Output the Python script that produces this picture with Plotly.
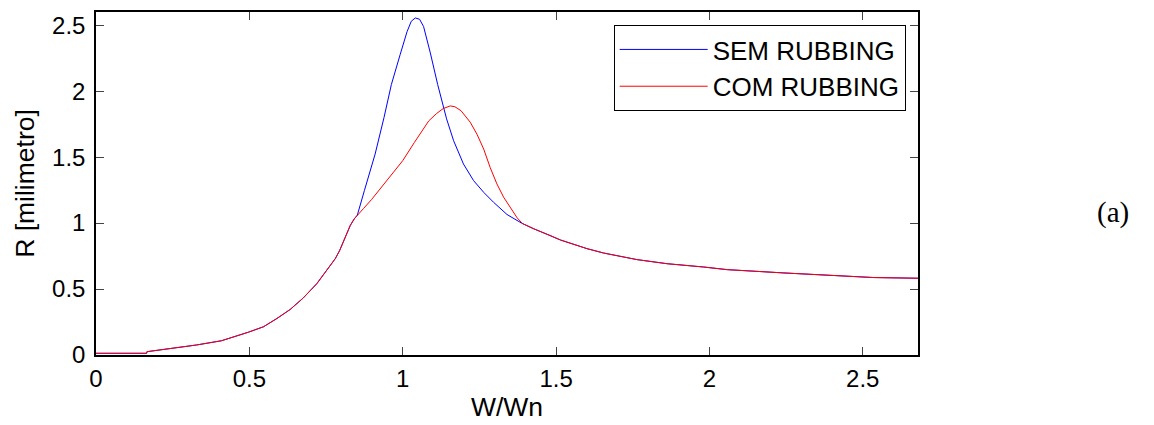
import plotly.graph_objects as go

# W/Wn values and R [milimetro] values
w_sem = [0.0, 0.165, 0.166, 0.234, 0.285, 0.328, 0.409, 0.459, 0.497, 0.546, 0.572, 0.59,
         0.633, 0.676, 0.72, 0.753, 0.78, 0.794, 0.812, 0.829, 0.842, 0.852, 0.875, 0.91,
         0.939, 0.963, 0.992, 1.014, 1.028, 1.041, 1.055, 1.068, 1.09, 1.114, 1.143, 1.166,
         1.198, 1.231, 1.264, 1.296, 1.34, 1.388, 1.427, 1.481, 1.514, 1.601, 1.655, 1.764,
         1.862, 1.981, 2.058, 2.243, 2.373, 2.536, 2.68]
r_sem = [0.013, 0.013, 0.025, 0.048, 0.06, 0.076, 0.108, 0.143, 0.173, 0.214, 0.25, 0.277,
         0.345, 0.433, 0.541, 0.64, 0.73, 0.79, 0.894, 0.982, 1.032, 1.06, 1.246, 1.523,
         1.8, 2.05, 2.28, 2.45, 2.53, 2.555, 2.545, 2.49, 2.29, 2.05, 1.79, 1.624,
         1.448, 1.322, 1.233, 1.158, 1.065, 0.999, 0.957, 0.906, 0.872, 0.806, 0.773, 0.723,
         0.692, 0.667, 0.647, 0.622, 0.604, 0.587, 0.582]

w_com = [0.0, 0.165, 0.166, 0.234, 0.285, 0.328, 0.409, 0.459, 0.497, 0.546, 0.572, 0.59,
         0.633, 0.676, 0.72, 0.753, 0.78, 0.794, 0.812, 0.829, 0.842, 0.852, 0.872, 0.899,
         0.927, 0.945, 0.981, 1.0, 1.038, 1.085, 1.11, 1.132, 1.155, 1.17, 1.19, 1.22,
         1.242, 1.264, 1.285, 1.307, 1.329, 1.351, 1.373, 1.39, 1.427, 1.481, 1.514, 1.601,
         1.655, 1.764, 1.862, 1.981, 2.058, 2.243, 2.373, 2.536, 2.68]
r_com = [0.013, 0.013, 0.025, 0.048, 0.06, 0.076, 0.108, 0.143, 0.173, 0.214, 0.25, 0.277,
         0.345, 0.433, 0.541, 0.64, 0.73, 0.79, 0.894, 0.982, 1.032, 1.06, 1.11, 1.18,
         1.26, 1.31, 1.42, 1.473, 1.611, 1.775, 1.83, 1.868, 1.888, 1.882, 1.852, 1.765,
         1.674, 1.561, 1.422, 1.297, 1.196, 1.12, 1.04, 0.997, 0.957, 0.906, 0.872, 0.806,
         0.773, 0.723, 0.692, 0.667, 0.647, 0.622, 0.604, 0.587, 0.582]

x_ticks = [0, 0.5, 1, 1.5, 2, 2.5]
y_ticks = [0, 0.5, 1, 1.5, 2, 2.5]

FONT = "Liberation Sans, Arial, sans-serif"

fig = go.Figure()
fig.add_trace(go.Scatter(x=w_sem, y=r_sem, mode="lines", name="SEM RUBBING",
                         line=dict(color="#0000ff", width=1)))
fig.add_trace(go.Scatter(x=w_com, y=r_com, mode="lines", name="COM RUBBING",
                         line=dict(color="#ff0000", width=1)))

axis_common = dict(showgrid=False, zeroline=False, showline=True, linecolor="black",
                   linewidth=1.5, mirror="allticks", ticks="inside", ticklen=8,
                   tickcolor="#444", tickwidth=1, tickfont=dict(family=FONT, size=24, color="black"))

fig.update_xaxes(range=[0, 2.68], tickvals=x_ticks, ticktext=[str(v) for v in x_ticks],
                 title=dict(text="W/Wn", font=dict(family=FONT, size=26.5, color="black"), standoff=4),
                 ticklabelstandoff=1, **axis_common)
fig.update_yaxes(range=[0, 2.6], tickvals=y_ticks, ticktext=[str(v) for v in y_ticks],
                 title=dict(text="R [milimetro]", font=dict(family=FONT, size=26.5, color="black"), standoff=10),
                 ticklabelstandoff=4, **axis_common)

fig.update_layout(
    width=1154, height=425,
    margin=dict(l=96, r=236, t=12, b=70, autoexpand=False),
    paper_bgcolor="white", plot_bgcolor="white",
    font=dict(family=FONT, size=24, color="black"),
    showlegend=True,
    legend=dict(x=0.985, y=0.962, xanchor="right", yanchor="top",
                bgcolor="white", bordercolor="black", borderwidth=1,
                font=dict(family=FONT, size=26, color="black"),
                itemwidth=88, tracegroupgap=0),
    annotations=[dict(text="(a)", xref="paper", yref="paper", x=1.237, y=0.414,
                      xanchor="center", yanchor="middle", showarrow=False,
                      font=dict(family="Liberation Serif, Times New Roman, serif", size=29, color="black"))],
)

fig.write_html("out.html")
